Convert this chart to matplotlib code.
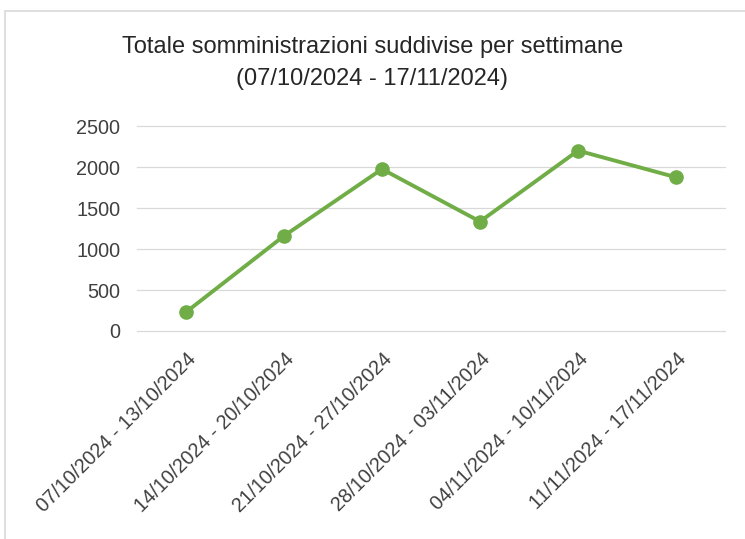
import matplotlib.pyplot as plt
from matplotlib.patches import Rectangle

# weekly totals
settimane = ['07/10/2024 - 13/10/2024', '14/10/2024 - 20/10/2024',
             '21/10/2024 - 27/10/2024', '28/10/2024 - 03/11/2024',
             '04/11/2024 - 10/11/2024', '11/11/2024 - 17/11/2024']
totali = [230, 1160, 1975, 1335, 2200, 1875]
y_ticks = [0, 500, 1000, 1500, 2000, 2500]

plt.rcParams['font.family'] = ['Liberation Sans', 'DejaVu Sans']

fig = plt.figure(figsize=(7.45, 5.39), dpi=100)
ax = fig.add_axes([0.1839, 0.3859, 0.7893, 0.3803])

# light frame like the Excel chart area
fig.patches.append(Rectangle((5 / 745, -0.05), 1.0, 1 - 11 / 539 + 0.05,
                             transform=fig.transFigure, fill=False,
                             edgecolor='#D9D9D9', linewidth=1.2))

x = range(len(settimane))
ax.plot(x, totali, color='#70AD47', linewidth=2.8, marker='o',
        markersize=9.5, solid_capstyle='round', zorder=3)

ax.set_xlim(-0.5, len(settimane) - 0.5)
ax.set_ylim(0, 2500)
ax.set_yticks(y_ticks)
ax.yaxis.grid(True, color='#D9D9D9', linewidth=0.9)
for gl in ax.get_ygridlines():
    gl.set_clip_on(False)
ax.set_axisbelow(True)
for s in ax.spines.values():
    s.set_visible(False)

ax.set_xticks(list(x))
ax.set_xticklabels(settimane, rotation=45, ha='right', rotation_mode='anchor',
                   fontsize=14.3, color='#404040')
ax.tick_params(axis='x', length=0, pad=13)
ax.tick_params(axis='y', length=0, pad=12, labelsize=14.3, labelcolor='#404040')

fig.text(0.5, 1 - 47 / 539, 'Totale somministrazioni suddivise per settimane',
         ha='center', va='center', fontsize=17, color='#262626')
fig.text(0.5, 1 - 79 / 539, '(07/10/2024 - 17/11/2024)',
         ha='center', va='center', fontsize=17, color='#262626')

fig.savefig('out.png', dpi=100)
